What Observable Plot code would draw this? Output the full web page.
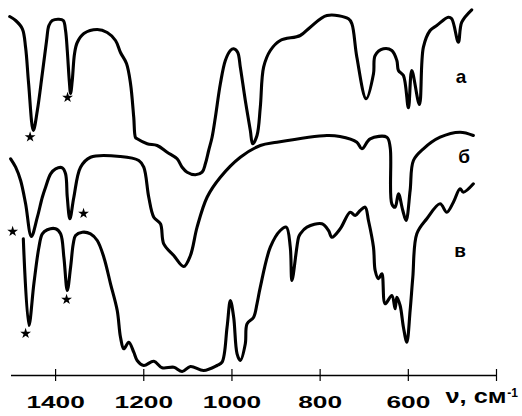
<!DOCTYPE html>
<html><head><meta charset="utf-8">
<script src="https://cdn.jsdelivr.net/npm/d3@7"></script>
<script src="https://cdn.jsdelivr.net/npm/@observablehq/plot@0.6"></script>
<style>body{margin:0;background:#fff} svg{display:block}</style>
</head><body><div id="chart"></div>
<script>
// Spectrum а (top)
const waveA = [1504,1490.6,1475.4,1468,1461.2,1450.5,1441.4,1430.1,1420.4,1415.2,1407.5,1392.5,1382.6,1377.4,1373.5,1369,1366,1362.2,1357,1350.9,1335.9,1305.5,1282.9,1264.1,1252.8,1239.2,1230.1,1222.7,1218.8,1215,1192.3,1169.7,1147,1124.4,1113,1101.7,1082.9,1067.7,1060.3,1052.8,1045.1,1037.6,1026.3,1015,1003.6,996.1,987.1,981,969.7,958.3,953.1,943.2,935.7,928.2,913,890.4,845.1,822.4,784.6,735.7,728,716.7,695.6,679,675.2,656.4,637.4,626,622.4,611.1,599.8,592.1,574.9,565.8,550.6,535.5,509.2,501.5,486.5,478.8,456.2];
const transA = [359,355,346.7,328,292,245,265,302,335,350,355,356.3,355,345,325,295,282,295,322,333,342,346,343,335,323,312,292,258,238,236.7,231.7,230,223.3,216.7,208.3,203.3,200.7,203.3,211.7,225,238.3,258.3,291.7,315,325,326.7,323.3,308.3,275,245,231.7,240,268.3,308.3,325,335,340,348.3,360,356.7,351.7,318.3,276.7,301.7,320,326.7,325,315,305,300,267.7,305,271,328.3,345,350,358.3,356.7,333.3,353.3,365.7];
// Spectrum б (middle)
const waveB = [1501.9,1490.6,1479.3,1468,1455,1441.4,1430.1,1422.7,1411.3,1400,1384.8,1377.4,1373.5,1367.6,1358.6,1343.4,1320.7,1252.8,1211.3,1200,1188.7,1177.3,1162.2,1154.7,1132,1109.4,1094.2,1079.1,1056.4,1026.3,981,935.7,897.9,784.6,755.1,716.7,705.3,686.5,648.7,641.2,637.4,629.9,622.4,612.5,605,595.9,588.4,565.8,527.9,482.7,452.5];
const transB = [216.7,208.3,195,171.7,139,158.3,178.3,188.3,201.7,206.7,207.7,201.7,178.3,156.7,178.3,208.3,218.3,219,215,208.3,178.3,158.3,151.7,131.7,120,109,120,148.3,178.3,198.3,218.3,230,233.3,240,239,233.3,226.7,236.7,238.3,228.3,171.7,168.3,181.7,165,155,185,215,226.7,238.3,243.3,240];
// Spectrum в (bottom)
const waveC = [1473.2,1460.5,1449.2,1437.8,1430.1,1418.8,1400,1388.7,1381.2,1373.5,1366,1359.9,1354.7,1339.5,1320.7,1305.5,1290.6,1275.4,1260.2,1252.8,1245.3,1234,1222.7,1215,1200,1177.3,1158.3,1132,1113,1094.2,1064.1,1033.8,1022.4,1011.1,1003.6,996.1,988.4,981,969.7,965.8,950.8,943.2,935.7,913,890.4,876.8,867.7,863.9,848.9,845.1,829.9,796,781,773.3,754.5,731.8,720.5,709.2,697.9,690.4,679,675.2,667.7,660,652.6,637.4,629.9,626.1,618.6,611.1,603.4,595.9,589.8,580.7,558.1,527.9,512.8,497.8,482.7,475.2,452.5];
const transC = [136.7,50,92,128.3,141.7,145.7,146.7,141.7,118.3,85,108.3,131.7,140,143.3,141.7,135,118.3,91.7,65,38.3,26.7,33.3,23.3,15,10,14.3,7.7,8.3,4,9,5,10,13.3,48.3,75,58.3,21.7,15,31.7,51.7,58.3,71.7,88.3,128.3,145,148.3,128.3,95,138.3,141.7,148.3,151.7,145,138.3,146.7,163.3,160,165,168.3,155,128.3,105,96.7,101.7,71.7,80,66.7,78.3,70,48.3,33.3,65,98.3,141.7,156.7,171.7,163.3,173.3,186.7,183.3,191.7];

// Asterisk markers on bands
const starWave = [1457.8,1372.8,1497.4,1336.6,1468,1375.1];
const starTrans = [238.5,278,144,162,42,76];

// Series labels
const seriesNames = ["а","б","в"];
const labelWave = [480.4,473.6,482.6];
const labelTrans = [298.4,218.8,124.4];

// Axis
const xTicks = [1400,1200,1000,800,600];
const xTickMarks = [1400,1200,1000,800,600,400];
const axisLabel = "ν, см";
const axisLabelSup = "-1";

const lineData = [
  ...waveA.map((w,i)=>({series:"а", wave:w, t:transA[i]})),
  ...waveB.map((w,i)=>({series:"б", wave:w, t:transB[i]})),
  ...waveC.map((w,i)=>({series:"в", wave:w, t:transC[i]}))
];
const stars = starWave.map((w,i)=>({wave:w, t:starTrans[i]}));
const labels = seriesNames.map((s,i)=>({s, wave:labelWave[i], t:labelTrans[i]}));

const font = "'Liberation Sans', Arial, sans-serif";
const svg = Plot.plot({
  width: 522, height: 416,
  marginLeft: 11, marginRight: 26, marginTop: 0, marginBottom: 41,
  style: {background: "#fff", color: "#000", fontFamily: font},
  x: {domain: [1500, 400], axis: null},
  y: {domain: [0, 375], axis: null},
  marks: [
    Plot.ruleY([0], {stroke: "#000", strokeWidth: 1.3}),
    Plot.ruleX(xTickMarks, {x: d => d, y1: -6, y2: 6, stroke: "#000", strokeWidth: 1.2}),
    Plot.line(lineData, {x: "wave", y: "t", z: "series", curve: "catmull-rom", stroke: "#000", strokeWidth: 3.1, strokeLinejoin: "round", strokeLinecap: "round"}),
    Plot.dot(stars, {x: "wave", y: "t", symbol: "star", r: 3.4, fill: "#000", stroke: "none"}),
    Plot.text(labels, {x: "wave", y: "t", text: "s", fontSize: 19, fontWeight: "bold", fill: "#000"}),
    Plot.text(xTicks, {x: d => d, y: 0, text: d => String(d), dy: 27, fontSize: 16, fontWeight: "bold", fill: "#000"}),
    Plot.text([axisLabel], {frameAnchor: "bottom-right", text: d => d, textAnchor: "start", dx: -51, dy: 27, fontSize: 21, fontWeight: "bold", fill: "#000"}),
    Plot.text([axisLabelSup], {frameAnchor: "bottom-right", text: d => d, textAnchor: "middle", dx: 16, dy: 21, fontSize: 12, fontWeight: "bold", fill: "#000"})
  ]
});
d3.select(svg).selectAll("text").each(function() {
  const s = this.textContent;
  if (/^\d{3,4}$/.test(s)) {
    this.setAttribute("textLength", (14.6 * s.length).toFixed(1));
    this.setAttribute("lengthAdjust", "spacingAndGlyphs");
  } else if (s === axisLabel) {
    this.setAttribute("textLength", "61");
    this.setAttribute("lengthAdjust", "spacingAndGlyphs");
  }
});
document.getElementById("chart").appendChild(svg);
</script>
</body></html>
